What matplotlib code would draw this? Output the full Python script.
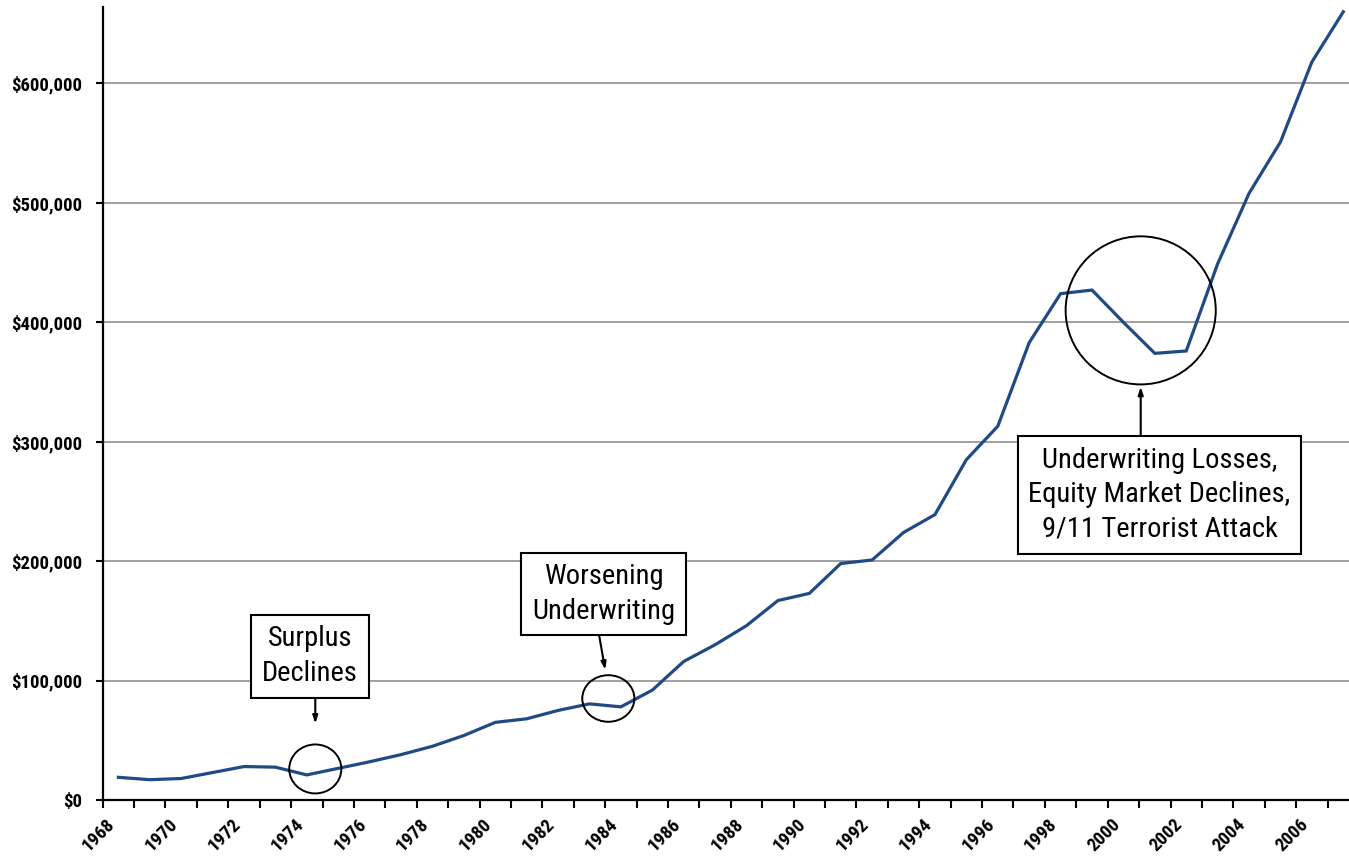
import matplotlib
matplotlib.use('Agg')
import matplotlib.pyplot as plt
from matplotlib import font_manager
from matplotlib.patches import Ellipse
from matplotlib.ticker import FuncFormatter, MultipleLocator

# Policyholder surplus, $ thousands, one value per year
years = list(range(1968, 2008))
surplus = [19000, 17000, 18000, 23000, 28000, 27500, 21000, 26500, 32000, 38000,
           45000, 54000, 65000, 68000, 75000, 80500, 78000, 92000, 116000, 130000,
           146000, 167000, 173000, 198000, 201000, 224000, 239000, 285000, 313000, 383000,
           424000, 427000, 400000, 374000, 376000, 449000, 508000, 551000, 618000, 660000]

label_years = list(range(1968, 2007, 2))

# callouts: text, box centre, arrow tail, arrow head, circle centre, circle size
callouts = [
    ('Surplus\nDeclines', (1974.1, 120500), (1974.27, 88000), (1974.27, 64000),
     (1974.27, 26000), (1.66, 41000)),
    ('Worsening\nUnderwriting', (1983.45, 172500), (1983.3, 139000), (1983.5, 109000),
     (1983.6, 85000), (1.66, 39000)),
    ('Underwriting Losses,\nEquity Market Declines,\n9/11 Terrorist Attack', (2001.15, 255500),
     (2000.55, 306000), (2000.55, 346000), (2000.55, 410000), (4.78, 124000)),
]

LINE_COLOR = '#1F4A84'


def narrow_font():
    """Pick a condensed sans face if one is installed."""
    fonts = font_manager.fontManager.ttflist
    names = {f.name for f in fonts}
    for name in ('Liberation Sans Narrow', 'Arial Narrow', 'Roboto Condensed',
                 'Open Sans Condensed', 'DejaVu Sans Condensed'):
        if name in names:
            return dict(family=[name, 'DejaVu Sans'])
    for f in fonts:
        if f.name == 'DejaVu Sans' and f.stretch in ('condensed', 'semi-condensed', 600, 500):
            return dict(family=['DejaVu Sans'], stretch='condensed')
    return dict(family=['DejaVu Sans'])


NARROW = narrow_font()

fig = plt.figure(figsize=(13.49, 8.58), dpi=100)
ax = fig.add_axes([0.0761, 0.0676, 0.9313, 0.9242])

ax.plot(years, surplus, color=LINE_COLOR, lw=2.3, solid_joinstyle='miter', zorder=3)

ax.set_xlim(1967.5, 2007.5)
ax.set_ylim(0, 664000)

ax.yaxis.set_major_locator(MultipleLocator(100000))
ax.yaxis.set_major_formatter(FuncFormatter(lambda v, p: f'${v:,.0f}'))
ax.grid(axis='y', color='#a0a0a0', lw=1.4, zorder=1)

# tick marks sit between the yearly categories, labels every second year
ax.set_xticks([y + 0.5 for y in range(1967, 2008)], minor=True)
ax.set_xticks([y - 0.4 for y in label_years])
ax.set_xticklabels([str(y) for y in label_years], rotation=45, ha='right', va='top',
                   rotation_mode='anchor', fontweight='bold', fontsize=13.5, **NARROW)
ax.tick_params(axis='x', which='major', length=0, pad=11)
ax.tick_params(axis='x', which='minor', length=6, width=1.5, direction='out')
ax.tick_params(axis='y', length=5, width=1.5, pad=10)
for lab in ax.get_yticklabels():
    lab.set_fontweight('bold')
    lab.set_fontsize(13.5)
    lab.set_family(NARROW['family'])
    if 'stretch' in NARROW:
        lab.set_stretch(NARROW['stretch'])

for side in ('top', 'right'):
    ax.spines[side].set_visible(False)
for side in ('left', 'bottom'):
    ax.spines[side].set_linewidth(1.6)

for text, box_xy, tail, head, centre, size in callouts:
    ax.text(box_xy[0], box_xy[1], text, ha='center', va='center', fontsize=20.5,
            linespacing=1.35, zorder=5, color='black',
            bbox=dict(boxstyle='square,pad=0.38', fc='white', ec='black', lw=1.5),
            **NARROW)
    ax.annotate('', xy=head, xytext=tail,
                arrowprops=dict(arrowstyle='-|>,head_width=0.15,head_length=0.45',
                                color='black', lw=1.5, shrinkA=0, shrinkB=0), zorder=4)
    ax.add_patch(Ellipse(centre, size[0], size[1], fill=False, ec='black', lw=1.4, zorder=4))

fig.savefig('out.png', dpi=100)
